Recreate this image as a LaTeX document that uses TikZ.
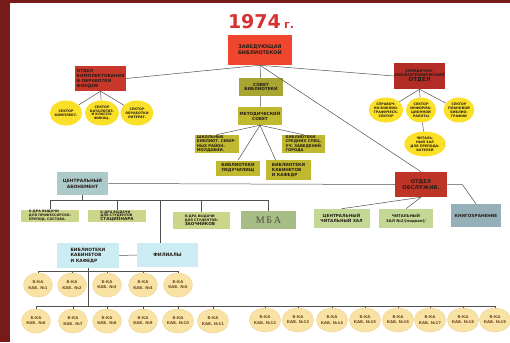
\documentclass[tikz,border=0pt]{standalone}
\usepackage{fontspec}
\setmainfont{DejaVu Sans}
\newfontfamily\serifmba{Liberation Serif}
\usetikzlibrary{shapes.geometric}

\definecolor{zavred}{RGB}{240,70,45}
\definecolor{deptred}{RGB}{200,56,42}
\definecolor{sprred}{RGB}{180,44,38}
\definecolor{yel}{RGB}{250,224,40}
\definecolor{olivea}{RGB}{168,166,48}
\definecolor{oliveb}{RGB}{192,184,46}
\definecolor{abon}{RGB}{172,202,202}
\definecolor{kgreen}{RGB}{204,214,138}
\definecolor{mbagreen}{RGB}{166,190,134}
\definecolor{zalgreen}{RGB}{196,216,150}
\definecolor{khran}{RGB}{150,176,186}
\definecolor{cyanbox}{RGB}{204,236,244}
\definecolor{cabfill}{RGB}{248,226,164}
\definecolor{frame}{RGB}{118,26,26}
\definecolor{ink}{RGB}{40,30,24}
\definecolor{wire}{RGB}{80,80,80}

\begin{document}
\begin{tikzpicture}[x=1pt,y=-1pt,line width=0.5pt,
  box/.style={rectangle,inner sep=0pt,align=center,text=ink,font=\bfseries\fontsize{4.2}{4.9}\selectfont},
  red box/.style={box,fill=deptred},
  olive box/.style={box,fill=oliveb,minimum width=44pt,minimum height=18pt,font=\bfseries\fontsize{3.8}{4.3}\selectfont},
  k box/.style={box,fill=kgreen,minimum width=57pt,font=\bfseries\fontsize{3.3}{3.8}\selectfont},
  zal box/.style={box,fill=zalgreen,minimum width=56pt,minimum height=19pt},
  dot/.style={ellipse,inner sep=0pt,align=center,fill=yel,minimum width=29pt,minimum height=25pt,
    text=ink,font=\bfseries\fontsize{3.3}{3.9}\selectfont},
  cab/.style={ellipse,inner sep=0pt,align=center,fill=cabfill,draw=cabfill!80!brown,line width=0.3pt,
    minimum width=29pt,minimum height=24pt,text=brown!60!black,font=\bfseries\fontsize{3.9}{5.2}\selectfont},
  wires/.style={draw=wire,line width=0.5pt}]

  \useasboundingbox (0,0) rectangle (510,342);
  \fill[white] (0,0) rectangle (510,342);
  \fill[frame] (0,0) rectangle (10,342);
  \fill[frame] (0,0) rectangle (510,3);

  % top level
  \node (year) at (261,22) {\color[RGB]{215,50,50}\bfseries\fontsize{19}{19}\selectfont 1974\,{\fontsize{11}{11}\selectfont г.}};
  \node[box,fill=zavred,minimum width=64pt,minimum height=30pt,font=\bfseries\fontsize{5}{6}\selectfont] (zav) at (260,50) {ЗАВЕДУЮЩАЯ\\БИБЛИОТЕКОЙ};
  \node[red box,minimum width=51pt,minimum height=25pt,align=left] (komp) at (100.5,78.5) {ОТДЕЛ\\КОМПЛЕКТОВАНИЯ\\И ОБРАБОТКИ\\ФОНДОВ};
  \node[red box,fill=sprred,minimum width=51pt,minimum height=26pt,font=\bfseries\fontsize{3.7}{4.6}\selectfont] (spr) at (419.5,76) {СПРАВОЧНО-\\БИБЛИОГРАФИЧЕСКИЙ\\{\fontsize{5.5}{6.5}\selectfont ОТДЕЛ}};
  \node[box,fill=olivea,minimum width=44pt,minimum height=18pt] (sov) at (261,87) {СОВЕТ\\БИБЛИОТЕКИ};
  \node[olive box,font=\bfseries\fontsize{4.2}{5}\selectfont] (met) at (260,116) {МЕТОДИЧЕСКИЙ\\СОВЕТ};

  % sectors
  \node[dot] (ls1) at (66,113) {СЕКТОР\\КОМПЛЕКТ.};
  \node[dot] (ls2) at (102,113) {СЕКТОР\\КАТАЛОГИЗ.\\И КЛАССИ-\\ФИКАЦ.};
  \node[dot] (ls3) at (137,113) {СЕКТОР\\ОБРАБОТКИ\\ЛИТЕРАТ.};
  \node[dot,minimum width=28pt] (rs1) at (386,110) {СПРАВОЧ-\\НО-БИБЛИО-\\ГРАФИЧЕСК.\\СЕКТОР};
  \node[dot,minimum width=28pt] (rs2) at (421,110) {СЕКТОР\\ИНФОРМА-\\ЦИОННОЙ\\РАБОТЫ};
  \node[dot,minimum width=28pt] (rs3) at (459,110) {СЕКТОР\\ПЛАНОВОЙ\\БИБЛИО-\\ГРАФИИ};
  \node[dot,minimum width=30pt] (rs4) at (425,144) {ЧИТАЛЬ-\\НЫЙ ЗАЛ\\ДЛЯ ПРЕПОДА-\\ВАТЕЛЕЙ};

  % methodical council
  \node[olive box,align=left] (shk) at (216.5,144) {ШКОЛЬНЫЕ\\БИБЛИОТ. СЕВЕР-\\НЫХ РАЙОН.\\МОЛДАВИИ.};
  \node[olive box,minimum width=43pt,align=left] (sred) at (303.5,144) {БИБЛИОТЕКИ\\СРЕДНИХ СПЕЦ.\\УЧ. ЗАВЕДЕНИЙ\\ГОРОДА};
  \node[olive box,minimum height=15pt,font=\bfseries\fontsize{4.2}{5}\selectfont] (ped) at (238,168) {БИБЛИОТЕКИ\\ПЕДУЧИЛИЩ};
  \node[olive box,minimum width=45pt,minimum height=20pt,align=left,font=\bfseries\fontsize{4.2}{5}\selectfont] (kk) at (288.5,170) {БИБЛИОТЕКИ\\КАБИНЕТОВ\\И КАФЕДР};

  % service
  \node[box,fill=abon,minimum width=51pt,minimum height=23pt,font=\bfseries\fontsize{4.4}{5.8}\selectfont] (abn) at (82.5,183.5) {ЦЕНТРАЛЬНЫЙ\\АБОНЕМЕНТ};
  \node[red box,fill=deptred!95!black,minimum width=52pt,minimum height=25pt,font=\bfseries\fontsize{5.2}{6.4}\selectfont] (obs) at (421,184.5) {ОТДЕЛ\\ОБСЛУЖИВ.};
  \node[k box,minimum width=58pt,minimum height=12pt,align=left] (k1) at (50,215.5) {К-ДРА ВЫДАЧИ\\ДЛЯ ПРОФЕССОРСКО-\\ПРЕПОД. СОСТАВА.};
  \node[k box,minimum width=58pt,minimum height=12pt,align=left] (k2) at (117,216) {К-ДРА ВЫДАЧИ\\ДЛЯ СТУДЕНТОВ\\{\fontsize{4.2}{4.4}\selectfont СТАЦИОНАРА}};
  \node[k box,minimum height=17pt,align=left] (k3) at (201.5,220.5) {К-ДРА ВЫДАЧИ\\ДЛЯ СТУДЕНТОВ-\\{\fontsize{4.2}{4.6}\selectfont ЗАОЧНИКОВ}};
  \node[box,fill=mbagreen,minimum width=55pt,minimum height=18pt,text=ink!80,font=\serifmba\fontsize{10}{10}\selectfont] (mba) at (268.5,220) {М\,Б\,А};
  \node[zal box] (czz) at (341.5,218.5) {ЦЕНТРАЛЬНЫЙ\\ЧИТАЛЬНЫЙ ЗАЛ};
  \node[zal box,minimum width=54pt,font=\bfseries\fontsize{3.8}{4.8}\selectfont] (cz2) at (406,218.5) {ЧИТАЛЬНЫЙ\\ЗАЛ №2/(подвал)/};
  \node[box,fill=khran,minimum width=50pt,minimum height=23pt,font=\bfseries\fontsize{4.2}{5}\selectfont] (khr) at (476,215.5) {КНИГОХРАНЕНИЕ};

  \node[box,fill=cyanbox,minimum width=62pt,minimum height=25pt,align=left,font=\bfseries\fontsize{4.4}{5.6}\selectfont] (bk) at (88,255.5) {БИБЛИОТЕКИ\\КАБИНЕТОВ\\И КАФЕДР};
  \node[box,fill=cyanbox,minimum width=61pt,minimum height=24pt,font=\bfseries\fontsize{4.6}{5.6}\selectfont] (fil) at (167.5,255) {ФИЛИАЛЫ};

  % cabinet libraries
  \node[cab] (c1) at (38,285) {Б-КА\\КАБ. №1};
  \node[cab] (c2) at (72,285) {Б-КА\\КАБ. №2};
  \node[cab] (c3) at (107,285) {Б-КА\\КАБ. №3};
  \node[cab] (c4) at (143,285) {Б-КА\\КАБ. №4};
  \node[cab] (c5) at (178,285) {Б-КА\\КАБ. №5};
  \node[cab] (c6) at (36,321) {Б-КА\\КАБ. №6};
  \node[cab] (c7) at (73,321) {Б-КА\\КАБ. №7};
  \node[cab] (c8) at (107,321) {Б-КА\\КАБ. №8};
  \node[cab] (c9) at (143,321) {Б-КА\\КАБ. №9};
  \node[cab] (c10) at (178,321) {Б-КА\\КАБ. №10};
  \node[cab] (c11) at (213,321) {Б-КА\\КАБ. №11};
  \node[cab] (c12) at (265,320) {Б-КА\\КАБ. №12};
  \node[cab] (c13) at (298,320) {Б-КА\\КАБ. №13};
  \node[cab] (c14) at (332,320) {Б-КА\\КАБ. №14};
  \node[cab] (c15) at (365,320) {Б-КА\\КАБ. №15};
  \node[cab] (c16) at (398,320) {Б-КА\\КАБ. №16};
  \node[cab] (c17) at (430,320) {Б-КА\\КАБ. №17};
  \node[cab] (c18) at (463,320) {Б-КА\\КАБ. №18};
  \node[cab] (c19) at (495,320) {Б-КА\\КАБ. №19};

  \path[wires]
    (zav.south) edge (komp.east)
                edge (spr.west)
                edge (sov)
                edge (obs.north)
    (komp.south) edge (ls1) edge (ls2) edge (ls3)
    (spr.south) edge (rs1) edge (rs2) edge (rs3)
    (rs2) edge (rs4)
    (sov) edge (met)
    (met.south) edge (shk.north)
                edge (sred.north)
                edge (ped.north)
                edge ([xshift=-13pt]kk.north)
    (abn.east) edge (obs.west)
    (obs.south) edge (czz.north)
                edge (cz2.north)
    (bk.east) edge (fil.west);

  \draw[wires] (obs.east) -- ++(15,0) -- (khr.north);
  \draw[wires] (abn.south) -- ++(0,5) -| (k1.north);
  \draw[wires] (abn.south) -- ++(0,5) -| (k2.north);
  \draw[wires] (abn.south) -- ++(0,5) -| (fil.north -| 160,0);
  \draw[wires] (abn.south) -- ++(0,5) -| (k3.north);
  \draw[wires] (abn.south) -- ++(0,5) -| (mba.north);

  \foreach \c in {c1,c2,c3,c4,c5}
    \draw[wires] (bk.south) -- ++(0,3) -| (\c.north);
  \foreach \c in {c6,c7,c8,c9,c10,c11,c12,c13,c14,c15,c16,c17,c18,c19}
    \draw[wires] (bk.south) -- ++(0,38) -| (\c.north);
\end{tikzpicture}
\end{document}
